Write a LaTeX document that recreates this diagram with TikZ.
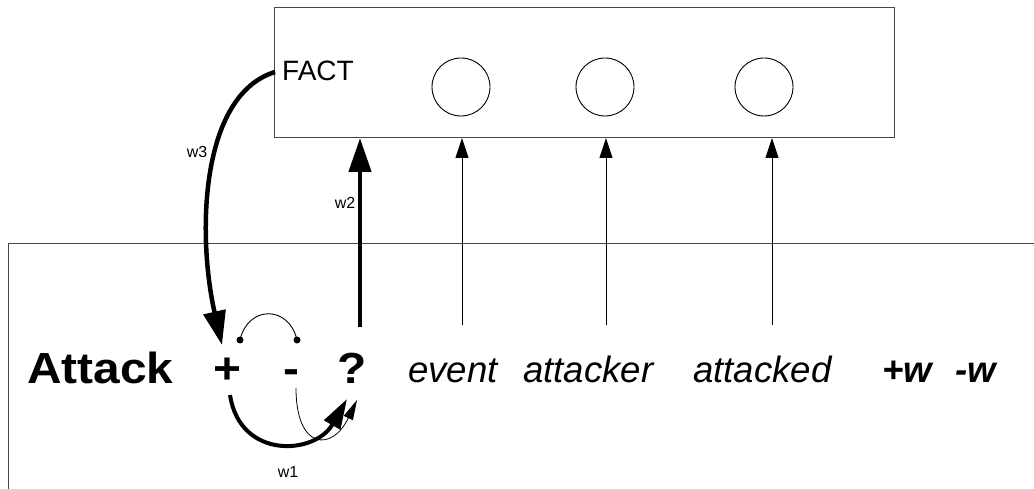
\documentclass[tikz,border=0pt]{standalone}
\usepackage{fontspec}
\setmainfont{Liberation Sans}
\usetikzlibrary{arrows.meta}
\definecolor{frame}{RGB}{70,70,70}
\newcommand{\widebold}[1]{\scalebox{1.1}[1]{#1}}
\tikzset{
  frameline/.style={draw=frame, line width=1pt},
  slot/.style={circle, draw=black, line width=0.9pt, minimum size=58pt, inner sep=0pt},
  word/.style={inner sep=0pt, font=\fontsize{36.6}{40}\selectfont\itshape},
  bigword/.style={inner sep=0pt, font=\fontsize{43.5}{48}\selectfont\bfseries},
  wlabel/.style={inner sep=0pt, font=\fontsize{16}{18}\selectfont},
  thinarrow/.style={line width=0.9pt, -{Triangle[length=20pt,width=13pt]}},
  thickarrow/.style={line width=4.5pt, -{Triangle[length=34pt,width=22pt]}},
  dotend/.style={circle, fill=black, inner sep=0pt, minimum size=7pt},
}
\begin{document}
\begin{tikzpicture}[x=1pt,y=-1pt]
\useasboundingbox (0,0) rectangle (1034,489);
\fill[white] (0,0) rectangle (1034,489);

% frame of the lower panel (open to the right and below)
\draw[frameline] (8,489) -- (8,244) -- (1034,244);

% FACT box with its three argument slots
\node[frameline, rectangle, inner sep=0pt, anchor=north west,
      minimum width=620pt, minimum height=130pt] (fact) at (274,7) {};
\node[inner sep=0pt, anchor=base west, font=\fontsize{28}{30}\selectfont] (factlbl) at (282,81) {FACT};
\node[slot] (s1) at (461,87) {};
\node[slot] (s2) at (605,87) {};
\node[slot] (s3) at (764,87) {};

% predicate line
\node[bigword, anchor=base west] (attack) at (27,383) {\widebold{Attack}};
\node[bigword, anchor=base] (plus) at (227,383) {\widebold{+}};
\node[bigword, anchor=base] (minus) at (291,383) {\widebold{-}};
\node[bigword, anchor=base] (query) at (352,383) {\widebold{?}};
\node[word, anchor=base west] (event) at (408,382) {event};
\node[word, anchor=base west] (attacker) at (523,382) {attacker};
\node[word, anchor=base west] (attacked) at (693,382) {attacked};
\node[word, anchor=base west, font=\fontsize{36.6}{40}\selectfont\bfseries\itshape] (pw) at (882,382) {+w};
\node[word, anchor=base west, font=\fontsize{36.6}{40}\selectfont\bfseries\itshape] (mw) at (955,382) {-w};

% connector end points
\coordinate (q top) at (360,327);
\coordinate (e top) at (462,325);
\coordinate (a top) at (606,325);
\coordinate (d top) at (772,325);
\coordinate (fact w) at (275,72);
\coordinate (plus tip) at (222,345);
\coordinate (plus low) at (230,395);
\coordinate (minus low) at (296,388);
\coordinate (query tipa) at (347,399);
\coordinate (query tipb) at (357,400);
\coordinate (dotl) at (240,340);
\coordinate (dotr) at (297,340);

% arguments feeding the FACT box
\draw[thickarrow] (q top) -- (q top |- fact.south);
\draw[thinarrow] (e top) -- (e top |- fact.south);
\draw[thinarrow] (a top) -- (a top |- fact.south);
\draw[thinarrow] (d top) -- (d top |- fact.south);
\node[wlabel, anchor=center] (w2) at (345,203) {w2};

% FACT back to +
\draw[thickarrow] (fact w) .. controls (200,95) and (197,235) .. (plus tip);
\node[wlabel, anchor=center] (w3) at (197,152) {w3};

% + and - are linked
\node[dotend] (dl) at (dotl) {};
\node[dotend] (dr) at (dotr) {};
\draw[line width=0.9pt] (dl.center) .. controls (248,305) and (289,305) .. (dr.center);

% + and - both lead to ?
\draw[line width=0.8pt, -{Triangle[length=20pt,width=10pt]}]
  (minus low) .. controls (296,450) and (332,452) .. (query tipb);
\draw[line width=4pt, -{Triangle[length=30pt,width=18pt]}]
  (plus low) .. controls (240,460) and (315,455) .. (query tipa);
\node[wlabel, anchor=center] (w1) at (288,472) {w1};
\end{tikzpicture}
\end{document}
